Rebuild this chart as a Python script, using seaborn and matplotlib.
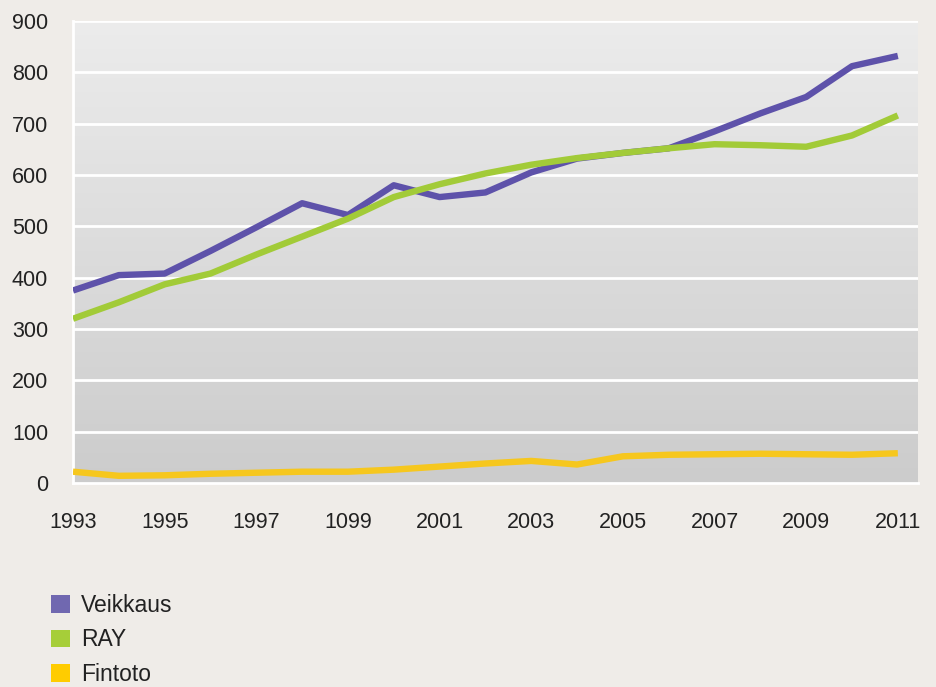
import matplotlib.pyplot as plt
import seaborn as sns
import numpy as np
import pandas as pd
from matplotlib.patches import Patch

years = list(range(1993, 2012))
veikkaus = [375, 405, 408, 452, 498, 545, 522, 580, 557, 566, 605, 632, 643, 652, 685, 720, 752, 812, 832]
ray = [320, 352, 387, 408, 445, 480, 515, 557, 582, 603, 620, 633, 643, 652, 660, 658, 655, 677, 716]
fintoto = [22, 14, 15, 18, 20, 22, 22, 26, 32, 38, 43, 36, 52, 55, 56, 57, 56, 55, 58]

series_names = ["Veikkaus", "RAY", "Fintoto"]
colors = ["#5E52AA", "#A2CB38", "#F6C71E"]
legend_colors = ["#7068B0", "#A6CE39", "#FFCC00"]
tick_years = [1993, 1995, 1997, 1999, 2001, 2003, 2005, 2007, 2009, 2011]
tick_labels = ["1993", "1995", "1997", "1099", "2001", "2003", "2005", "2007", "2009", "2011"]

df = pd.DataFrame({
    "year": years * 3,
    "value": veikkaus + ray + fintoto,
    "series": sum([[n] * len(years) for n in series_names], []),
})

sns.set_style("white")
plt.rcParams["font.family"] = ["Liberation Sans", "DejaVu Sans"]

bg = "#EFECE8"
fig = plt.figure(figsize=(9.37, 6.87), dpi=100, facecolor=bg)
ax = fig.add_axes([73 / 937, 1 - 483 / 687, 845 / 937, 462 / 687])

xmin, xmax = 1993, 2011.44
ymin, ymax = 0, 900

# gradient background of plot area
grad = np.linspace(0, 1, 256).reshape(-1, 1)
top = np.array([0.925, 0.925, 0.925])
bot = np.array([0.80, 0.80, 0.80])
img = top + (bot - top) * grad[..., None]
ax.imshow(img, extent=[xmin, xmax, ymin, ymax], aspect="auto", origin="upper", zorder=0)

for y in range(100, 901, 100):
    ax.axhline(y, color="white", lw=2, zorder=1)

sns.lineplot(data=df, x="year", y="value", hue="series", palette=colors,
             linewidth=4.6, ax=ax, legend=False, zorder=3)
for ln in ax.get_lines()[-3:]:
    ln.set_solid_capstyle("butt")
    ln.set_solid_joinstyle("round")

ax.set_xlim(xmin, xmax)
ax.set_ylim(ymin, ymax)
ax.set_xticks(tick_years)
ax.set_xticklabels(tick_labels)
ax.set_yticks(range(0, 901, 100))
ax.tick_params(axis="both", length=0, labelsize=15.5, colors="#222222")
ax.tick_params(axis="x", pad=21)
ax.tick_params(axis="y", pad=18)
ax.set_xlabel("")
ax.set_ylabel("")
for s in ax.spines.values():
    s.set_visible(False)
for side in ["left", "bottom"]:
    ax.spines[side].set_visible(True)
    ax.spines[side].set_color("white")
    ax.spines[side].set_linewidth(2)

handles = [Patch(facecolor=c, edgecolor="none", label=n) for c, n in zip(legend_colors, series_names)]
fig.legend(handles=handles, loc="upper left", bbox_to_anchor=(51 / 937, 1 - 594 / 687),
           frameon=False, fontsize=16.5, handlelength=0.82, handleheight=0.82,
           handletextpad=0.5, labelspacing=0.5, borderpad=0, borderaxespad=0,
           labelcolor="#222222")

fig.savefig("out.png", dpi=100, facecolor=bg)
